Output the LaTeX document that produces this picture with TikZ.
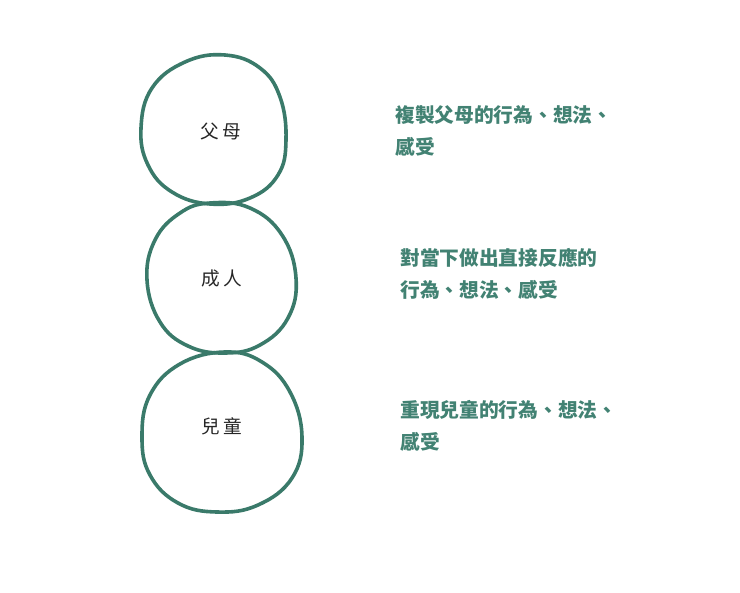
\documentclass[tikz,border=0pt]{standalone}
\usepackage{fontspec}
\newfontfamily\cjk{Noto Sans CJK TC}
\definecolor{teal1}{RGB}{58,122,106}
\definecolor{teal2}{RGB}{66,130,115}
\begin{document}
\begin{tikzpicture}[x=0.75pt,y=-0.75pt,
  ring/.style={draw=teal1,line width=2.7pt,line join=round},
  inlabel/.style={font=\cjk\fontsize{14}{16}\selectfont,text=black!85},
  desc/.style={font=\cjk\bfseries\fontsize{14.8}{24}\selectfont,text=teal2,anchor=north west,align=left,inner sep=0pt}]
\useasboundingbox (0,0) rectangle (740,593);
% circles
\draw[ring] plot[smooth cycle,tension=0.7] coordinates {(225,55) (260,68) (280,97) (286,140) (278,175) (250,198) (210,204) (172,192) (148,165) (141,128) (152,88) (185,62)};
\draw[ring] plot[smooth cycle,tension=0.7] coordinates {(210,203) (250,208) (282,235) (296,278) (288,318) (260,345) (225,353) (188,346) (160,322) (147,280) (155,240) (180,213)};
\draw[ring] plot[smooth cycle,tension=0.7] coordinates {(225,352) (262,362) (290,392) (302,437) (292,478) (258,505) (217,512) (178,503) (150,475) (142,437) (150,395) (180,364)};
% labels
\node[inlabel] (parent) at (221,131) {父\,母};
\node[inlabel] (adult) at (222,278) {成\,人};
\node[inlabel] (child) at (222,426) {兒\,童};
% descriptions
\node[desc] (d1) at (395,105) {複製父母的行為、想法、\\感受};
\node[desc] (d2) at (400,248) {對當下做出直接反應的\\行為、想法、感受};
\node[desc] (d3) at (400,400) {重現兒童的行為、想法、\\感受};
\end{tikzpicture}
\end{document}
